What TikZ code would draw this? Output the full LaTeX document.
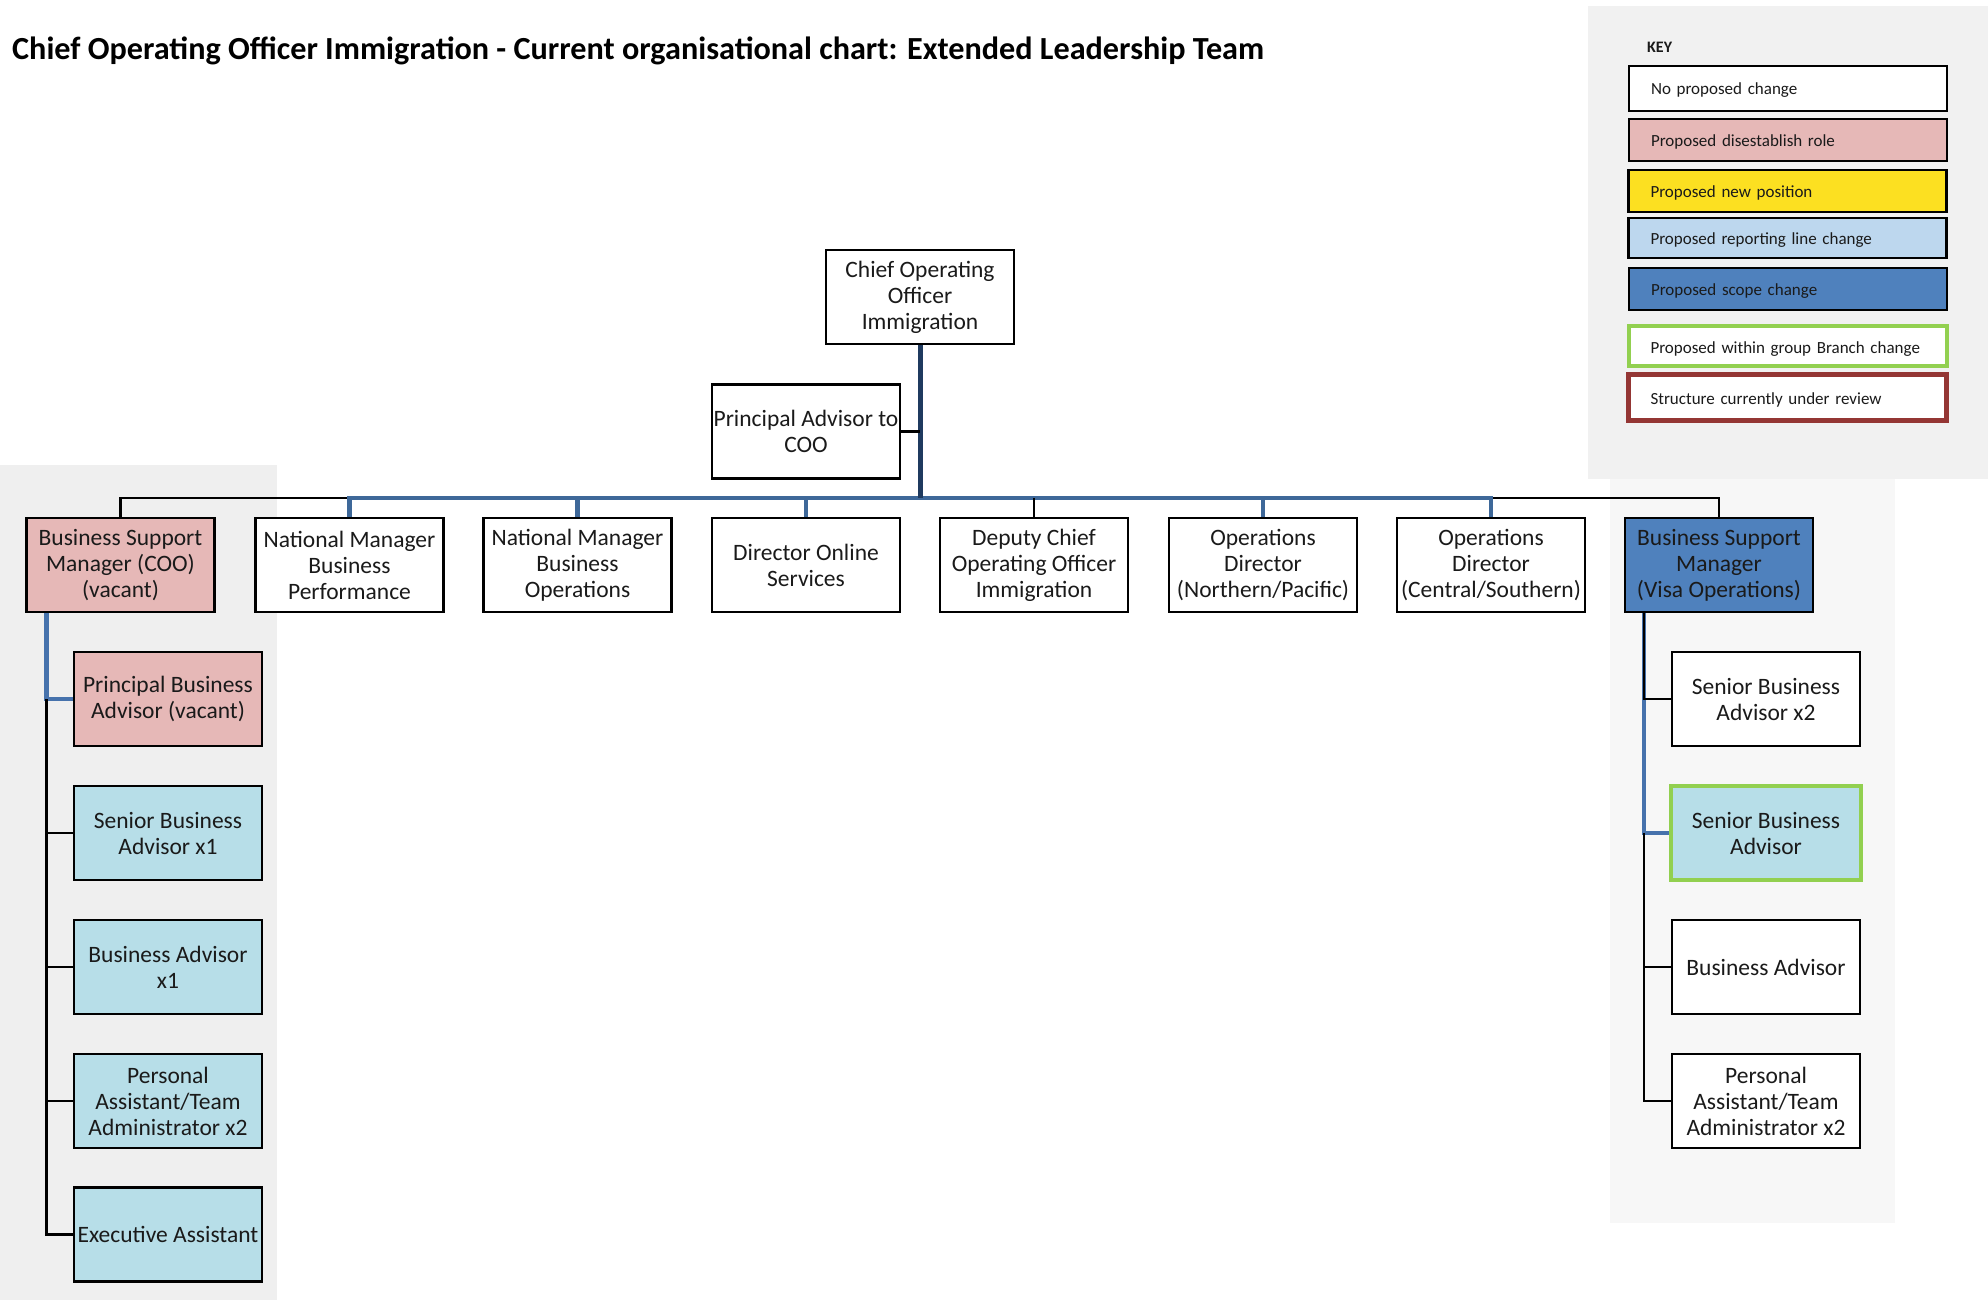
\documentclass[tikz,border=0pt]{standalone}
\usepackage{fontspec}
\setmainfont{Carlito}
\definecolor{panelL}{HTML}{EFEFEF}
\definecolor{panelK}{HTML}{F1F1F1}
\definecolor{panelR}{HTML}{F7F7F7}
\definecolor{pinkrole}{HTML}{E6B8B7}
\definecolor{aquarole}{HTML}{B7DEE8}
\definecolor{scoperole}{HTML}{4F81BD}
\definecolor{newrole}{HTML}{FCE021}
\definecolor{linerole}{HTML}{BDD7EE}
\definecolor{branchgreen}{HTML}{92D050}
\definecolor{reviewred}{HTML}{943634}
\definecolor{linkblue}{HTML}{4672AC}
\definecolor{barblue}{HTML}{3E6899}
\definecolor{navyline}{HTML}{1F3A5F}
\definecolor{ink}{HTML}{1A1A1A}
\begin{document}
\begin{tikzpicture}[x=1pt,y=-1pt,
  role/.style={draw=black, line width=2.5pt, fill=white, minimum width=188pt,
    minimum height=94pt, inner sep=0pt, align=center, text=ink,
    font=\fontsize{23.5}{26}\selectfont},
  toprole/.style={role, minimum height=94pt},
  gone/.style={fill=pinkrole},
  moved/.style={fill=aquarole},
  scoped/.style={fill=scoperole},
  branch/.style={draw=branchgreen, line width=4.5pt, minimum width=190pt, minimum height=94pt},
  keybox/.style={draw=black, line width=2.2pt, minimum width=318pt, text width=274pt,
    inner xsep=22pt, inner ysep=0pt, align=left, text=ink,
    text height=17pt, text depth=4pt,
    font=\fontsize{17}{19}\selectfont},
  conn/.style={draw=black, line width=2.5pt},
  blueconn/.style={draw=linkblue, line width=4.5pt},
  bluebar/.style={draw=barblue, line width=4.5pt},
  navy/.style={draw=navyline, line width=5pt}
]
\useasboundingbox (0,0) rectangle (1988,1300);
\fill[white] (0,0) rectangle (1988,1300);

% shaded panels
\fill[panelL] (0,465) rectangle (277,1300);
\fill[panelK] (1588,6) rectangle (1988,479);
\fill[panelR] (1610,479) rectangle (1895,1223);

% title
\node[anchor=base west, inner sep=0pt, font=\fontsize{32.2}{37}\selectfont\bfseries] (title)
  at (12,60) {Chief Operating Officer Immigration - Current organisational chart: Extended Leadership Team};

% key
\node[anchor=west, inner sep=0pt, font=\fontsize{16}{18}\selectfont\bfseries, text=ink] (keytitle) at (1647,47) {KEY};
\node[keybox, minimum height=45pt, fill=white] (k1) at (1788,88.5) {No proposed change};
\node[keybox, minimum height=42pt, fill=pinkrole] (k2) at (1788,140) {Proposed disestablish role};
\node[keybox, minimum height=42pt, fill=newrole] (k3) at (1787.5,191) {Proposed new position};
\node[keybox, minimum height=40pt, fill=linerole] (k4) at (1787.5,238) {Proposed reporting line change};
\node[keybox, minimum height=42pt, fill=scoperole] (k5) at (1788,289) {Proposed scope change};
\node[keybox, minimum height=40pt, fill=white, draw=branchgreen, line width=4pt, text height=19pt] (k6) at (1787.5,346) {Proposed within group Branch change};
\node[keybox, minimum height=46pt, fill=white, draw=reviewred, line width=4.5pt] (k7) at (1787.5,397.5) {Structure currently under review};

% top of the chart
\node[role] (coo) at (920,297) {Chief Operating\\Officer\\Immigration};
\node[role] (pac) at (806,431.5) {Principal Advisor to\\COO};

% direct reports
\node[toprole, gone] (bsmc) at (120.5,565) {Business Support\\Manager (COO)\\(vacant)};
\node[toprole] (nmbp) at (349.5,565) {National Manager\\Business\\Performance};
\node[toprole] (nmbo) at (577.5,565) {National Manager\\Business\\Operations};
\node[toprole] (dos) at (806,565) {Director Online\\Services};
\node[toprole] (dcoo) at (1034,565) {Deputy Chief\\Operating Officer\\Immigration};
\node[toprole] (opnp) at (1263,565) {Operations\\Director\\(Northern/Pacific)};
\node[toprole] (opcs) at (1491,565) {Operations\\Director\\(Central/Southern)};
\node[toprole, scoped] (bsmv) at (1719,565) {Business Support\\Manager\\(Visa Operations)};

% left team
\node[role, gone] (pba) at (168,699) {Principal Business\\Advisor (vacant)};
\node[role, moved] (sba1) at (168,833) {Senior Business\\Advisor x1};
\node[role, moved] (ba1) at (168,967) {Business Advisor\\x1};
\node[role, moved] (pa1) at (168,1101) {Personal\\Assistant/Team\\Administrator x2};
\node[role, moved] (ea) at (168,1234.5) {Executive Assistant};

% right team
\node[role] (sba2) at (1766,699) {Senior Business\\Advisor x2};
\node[role, moved, branch] (sbag) at (1766,833) {Senior Business\\Advisor};
\node[role] (ba2) at (1766,967) {Business Advisor};
\node[role] (pa2) at (1766,1101) {Personal\\Assistant/Team\\Administrator x2};

% reporting bar
\coordinate (bar) at (920,498);
\draw[conn] (bsmc.north) |- (bsmv.north |- bar) -- (bsmv.north);
\draw[bluebar] (nmbp.north) |- (opcs.north |- bar) -- (opcs.north);
\foreach \n in {nmbo,dos,opnp} \draw[bluebar] (\n.north) -- (\n.north |- bar);
\draw[conn] (dcoo.north) -- (dcoo.north |- bar);
\draw[navy] (coo.south) -- (coo.south |- bar);
\draw[conn] (pac.east) -- (pac.east -| coo.south);

% left team lines
\coordinate (lsp) at ([xshift=21pt]bsmc.south west);
\draw[blueconn] (lsp) |- (pba.west);
\draw[conn] (pba.west -| lsp) |- (ea.west);
\foreach \n in {sba1,ba1,pa1} \draw[conn] (\n.west) -- (\n.west -| lsp);

% right team lines
\coordinate (rsp) at ([xshift=20pt]bsmv.south west);
\draw[blueconn] (rsp) |- (sbag.west);
\draw[conn] (rsp) |- (sba2.west);
\draw[conn] (sbag.west -| rsp) |- (pa2.west);
\draw[conn] (ba2.west) -- (ba2.west -| rsp);
\end{tikzpicture}
\end{document}
